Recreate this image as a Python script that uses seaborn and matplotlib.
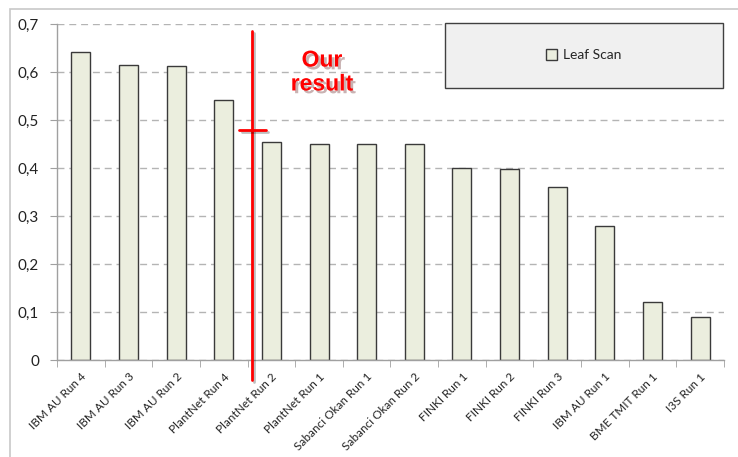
import matplotlib
matplotlib.use("Agg")
import matplotlib.pyplot as plt
import matplotlib.patheffects as pe
from matplotlib.patches import Rectangle, Patch
from matplotlib.ticker import FuncFormatter, MultipleLocator, FixedLocator
import numpy as np
import pandas as pd
import seaborn as sns

# Values
runs = ["IBM AU Run 4", "IBM AU Run 3", "IBM AU Run 2", "PlantNet Run 4",
        "PlantNet Run 2", "PlantNet Run 1", "Sabanci Okan Run 1",
        "Sabanci Okan Run 2", "FINKI Run 1", "FINKI Run 2", "FINKI Run 3",
        "IBM AU Run 1", "BME TMIT Run 1", "I3S Run 1"]
scores = [0.641, 0.615, 0.612, 0.542, 0.454, 0.450, 0.450,
          0.450, 0.400, 0.398, 0.360, 0.279, 0.120, 0.090]
legend_label = "Leaf Scan"
our_label = "Our\nresult"
our_x = 3.6       # marker position, between PlantNet Run 4 and PlantNet Run 2
our_score = 0.48

bar_fill = "#ebeede"
bar_edge = "#3a3a3a"

df = pd.DataFrame({"run": runs, "score": scores})

sns.set_style("white")
plt.rcParams['font.family'] = ['Lato', 'DejaVu Sans']

fig = plt.figure(figsize=(7.38, 4.57), dpi=100)
ax = fig.add_axes([57 / 738, 1 - 360 / 457, 667 / 738, 336 / 457])

# outer chart frame (only top and left edges visible in the original)
fig.patches.append(Rectangle((10 / 738, -0.05), 1.2, 1 - 9 / 457 + 0.05,
                             transform=fig.transFigure, fill=False,
                             edgecolor="#c8c8c8", lw=1.2))

sns.barplot(data=df, x="run", y="score", color=bar_fill, saturation=1,
            edgecolor=bar_edge, linewidth=1, width=0.4, ax=ax, zorder=2)

ax.set_xlim(-0.5, len(runs) - 0.5)
ax.set_ylim(0, 0.7)
ax.set_xlabel("")
ax.set_ylabel("")

ax.yaxis.set_major_locator(MultipleLocator(0.1))
ax.yaxis.set_major_formatter(FuncFormatter(
    lambda v, p: "0" if abs(v) < 1e-9 else f"{v:.1f}".replace(".", ",")))
ax.tick_params(axis="y", length=5, color="#a0a0a0", labelsize=11,
               labelcolor="#222222", pad=8, left=True)

ax.set_xticks(range(len(runs)))
ax.set_xticklabels(runs, rotation=45, ha="right", va="top",
                   rotation_mode="anchor", fontsize=8.5, color="#222222")
ax.tick_params(axis="x", which="major", length=0, pad=8)
ax.xaxis.set_minor_locator(FixedLocator(np.arange(-0.5, len(runs), 1)))
ax.tick_params(axis="x", which="minor", length=5, color="#a0a0a0", bottom=True)

for side in ["top", "right"]:
    ax.spines[side].set_visible(False)
for side in ["left", "bottom"]:
    ax.spines[side].set_color("#a0a0a0")
    ax.spines[side].set_linewidth(1)

ax.set_axisbelow(True)
ax.yaxis.grid(True, linestyle=(0, (5, 3.5)), color="#b4b4b4", linewidth=1)
ax.xaxis.grid(False)

# legend box
box = Rectangle((0.5817, 0.8104), 0.4163, 0.1935, transform=ax.transAxes,
                facecolor="#f0f0f0", edgecolor="#404040", lw=1, zorder=3,
                clip_on=False)
ax.add_patch(box)
handle = Patch(facecolor=bar_fill, edgecolor=bar_edge, linewidth=1)
leg = ax.legend([handle], [legend_label], loc="center",
                bbox_to_anchor=(0.5817 + 0.4163 / 2, 0.8104 + 0.1935 / 2),
                frameon=False, fontsize=10, handlelength=0.8,
                handleheight=0.8, handletextpad=0.4)
leg.set_zorder(4)

# "Our result" marker
shadow = [pe.SimpleLineShadow(offset=(1.5, -1.5), alpha=0.25), pe.Normal()]
ax.plot([our_x, our_x], [-0.042, 0.685], color="red", lw=2, clip_on=False,
        zorder=5, path_effects=shadow)
ax.plot([our_x - 0.27, our_x + 0.28], [our_score, our_score], color="red",
        lw=2, clip_on=False, zorder=5, path_effects=shadow)
ax.text(5.06, 0.6, our_label, color="red", fontsize=16.5, fontweight="bold",
        family=["Liberation Sans", "DejaVu Sans"], ha="center", va="center",
        linespacing=1.05, zorder=5,
        path_effects=[pe.withSimplePatchShadow(offset=(2, -2), alpha=0.3)])

fig.savefig("out.png", dpi=100)
